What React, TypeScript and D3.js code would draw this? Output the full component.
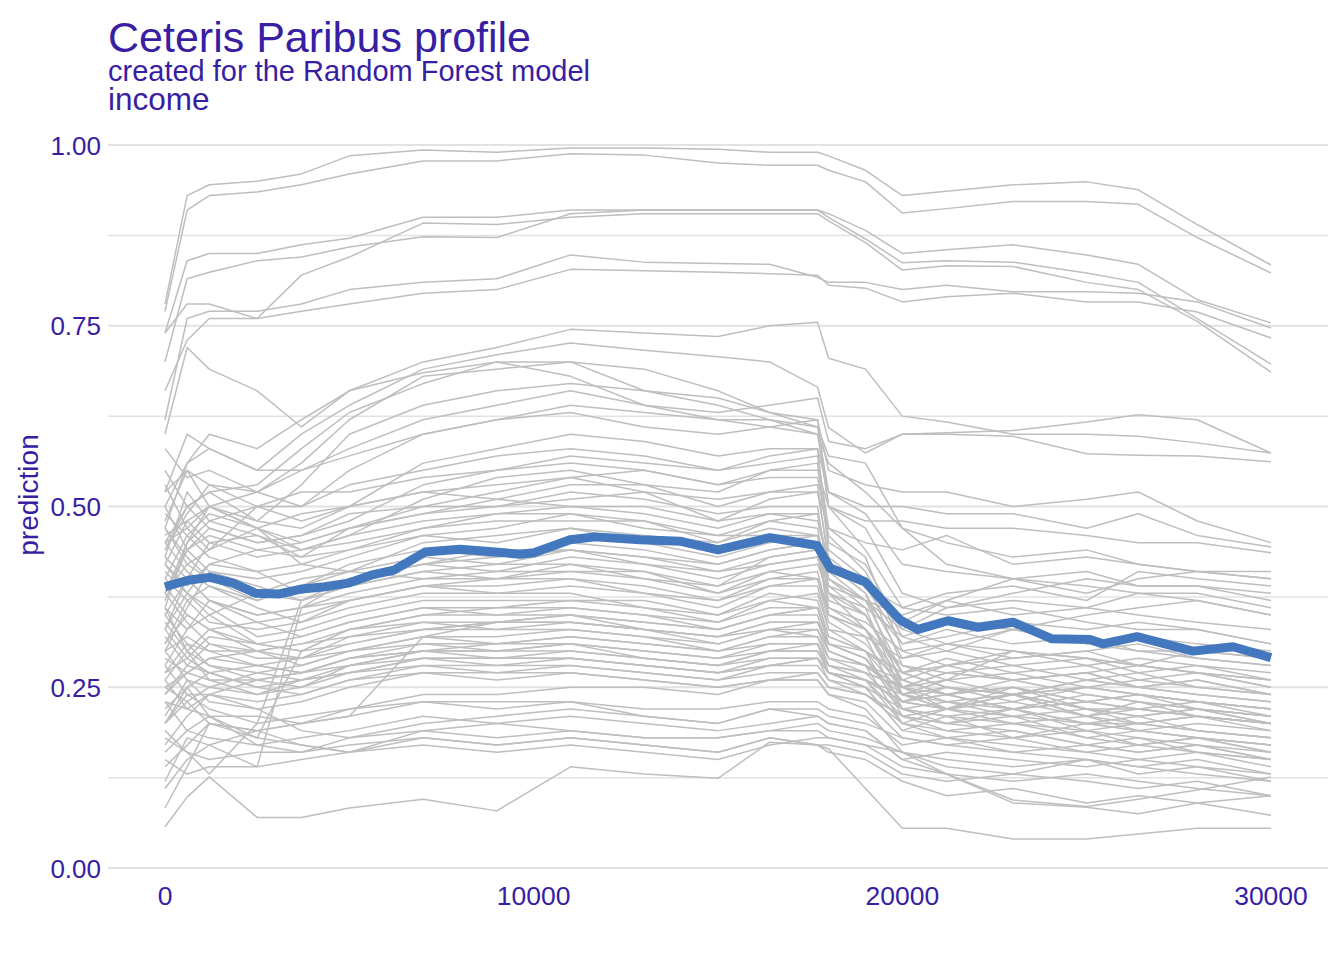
import React from "react";
import * as d3 from "d3";

// ---- data ----
const titleText = "Ceteris Paribus profile";
const subtitleText = "created for the Random Forest model";
const variableText = "income";
const yAxisTitle = "prediction";

const xTicks = [0, 10000, 20000, 30000];
const yTicks = [0, 0.25, 0.5, 0.75, 1];
const yMinorTicks = [0.125, 0.375, 0.625, 0.875];

// income grid used for the individual (grey) profiles
const gridIncome = [0, 600, 1200, 2500, 3700, 5000, 7000, 9000, 11000, 13000, 15000, 16400, 17700, 18000, 19000, 20000, 21200, 23000, 25000, 26400, 28000, 30000];

// individual ceteris paribus profiles (prediction at each gridIncome value)
const profiles: number[][] = [
  [.78, .93, .945, .95, .96, .985, .993, .99, .996, .996, .994, .99, .99, .985, .965, .93, .936, .945, .949, .938, .89, .834],
  [.77, .91, .93, .935, .945, .96, .978, .978, .988, .986, .975, .972, .972, .965, .949, .906, .912, .922, .922, .918, .872, .823],
  [.74, .84, .85, .85, .862, .871, .90, .90, .91, .91, .91, .91, .91, .905, .882, .85, .855, .862, .848, .835, .786, .754],
  [.70, .815, .824, .84, .845, .859, .873, .872, .905, .91, .91, .91, .91, .90, .87, .837, .84, .838, .823, .81, .76, .697],
  [.74, .78, .78, .76, .82, .845, .892, .89, .90, .905, .905, .905, .905, .895, .865, .827, .833, .832, .81, .80, .756, .686],
  [.62, .76, .77, .77, .78, .80, .81, .815, .848, .838, .836, .835, .817, .81, .81, .80, .806, .797, .797, .795, .783, .747],
  [.66, .73, .76, .76, .77, .78, .795, .80, .828, .826, .824, .822, .82, .806, .802, .783, .79, .795, .783, .783, .769, .733],
  [.47, .56, .60, .58, .62, .66, .70, .72, .745, .74, .735, .75, .755, .705, .69, .625, .617, .60, .60, .597, .588, .574],
  [.52, .60, .58, .55, .60, .64, .69, .71, .726, .716, .707, .70, .665, .609, .574, .60, .602, .605, .617, .627, .62, .574],
  [.44, .50, .52, .53, .58, .63, .67, .70, .68, .64, .62, .61, .60, .56, .52, .47, .45, .43, .44, .42, .41, .40],
  [.58, .54, .55, .52, .56, .62, .68, .69, .70, .69, .66, .63, .61, .57, .56, .47, .42, .40, .41, .39, .39, .37],
  [.36, .45, .50, .48, .53, .60, .64, .66, .67, .66, .65, .63, .62, .50, .44, .36, .35, .36, .34, .33, .33, .31],
  [.48, .55, .53, .50, .50, .55, .60, .62, .64, .63, .62, .62, .61, .52, .49, .42, .41, .40, .39, .38, .38, .36],
  [.42, .48, .50, .52, .55, .58, .62, .64, .66, .64, .63, .64, .65, .59, .58, .60, .60, .597, .573, .571, .57, .562],
  [.60, .72, .69, .66, .61, .66, .685, .70, .70, .66, .64, .62, .60, .50, .47, .38, .36, .37, .36, .35, .34, .33],
  [.45, .50, .52, .48, .47, .50, .56, .58, .60, .59, .57, .58, .58, .45, .42, .33, .31, .30, .29, .28, .27, .26],
  [.55, .50, .47, .45, .46, .48, .53, .55, .57, .56, .55, .56, .57, .47, .43, .30, .28, .29, .30, .28, .27, .25],
  [.40, .46, .49, .47, .44, .46, .51, .54, .55, .53, .52, .55, .56, .44, .40, .28, .27, .26, .27, .25, .26, .24],
  [.50, .44, .46, .44, .45, .47, .50, .52, .54, .55, .53, .54, .54, .46, .41, .32, .30, .33, .31, .30, .29, .28],
  [.43, .52, .48, .46, .43, .47, .49, .51, .53, .53, .50, .52, .53, .42, .38, .25, .23, .24, .22, .22, .21, .20],
  [.47, .42, .44, .50, .48, .50, .52, .51, .50, .50, .48, .51, .52, .43, .39, .31, .33, .31, .32, .30, .30, .29],
  [.38, .44, .47, .45, .46, .49, .50, .50, .52, .51, .49, .50, .50, .40, .36, .24, .22, .25, .22, .21, .22, .20],
  [.52, .55, .50, .47, .45, .47, .49, .50, .51, .52, .48, .49, .49, .41, .37, .27, .25, .24, .25, .24, .23, .22],
  [.33, .40, .45, .46, .44, .46, .48, .49, .50, .49, .47, .49, .48, .42, .38, .29, .30, .28, .29, .27, .28, .26],
  [.46, .48, .45, .43, .44, .45, .47, .49, .49, .47, .46, .48, .47, .39, .35, .26, .24, .22, .23, .22, .21, .19],
  [.41, .38, .42, .44, .43, .44, .47, .48, .48, .48, .45, .47, .46, .40, .37, .31, .32, .34, .33, .34, .33, .31],
  [.49, .46, .43, .41, .42, .44, .46, .47, .49, .48, .46, .46, .46, .38, .33, .24, .23, .22, .20, .20, .19, .18],
  [.45, .47, .50, .47, .42, .41, .45, .46, .47, .46, .45, .48, .49, .42, .40, .34, .37, .35, .36, .38, .37, .35],
  [.50, .56, .58, .55, .55, .57, .60, .62, .63, .61, .60, .61, .62, .55, .53, .52, .52, .50, .51, .52, .48, .45],
  [.44, .49, .53, .52, .50, .53, .55, .57, .58, .57, .55, .57, .58, .52, .50, .50, .49, .49, .47, .49, .46, .444],
  [.38, .45, .48, .50, .52, .52, .54, .55, .56, .55, .53, .55, .55, .50, .48, .48, .47, .47, .46, .45, .45, .436],
  [.53, .47, .44, .47, .49, .50, .52, .53, .54, .52, .51, .52, .52, .47, .45, .44, .46, .42, .43, .42, .41, .40],
  [.38, .42, .40, .37, .39, .42, .44, .43, .45, .44, .42, .44, .45, .36, .33, .26, .24, .25, .23, .24, .22, .21],
  [.43, .40, .37, .35, .36, .40, .42, .41, .43, .42, .41, .42, .43, .37, .35, .27, .29, .27, .28, .26, .27, .25],
  [.30, .36, .41, .39, .37, .39, .41, .42, .42, .40, .39, .43, .44, .35, .32, .22, .21, .22, .19, .20, .19, .18],
  [.36, .33, .35, .38, .40, .41, .40, .40, .41, .41, .38, .41, .40, .34, .31, .25, .27, .28, .26, .27, .25, .24],
  [.45, .41, .39, .36, .34, .37, .39, .40, .40, .38, .37, .40, .40, .35, .33, .28, .26, .30, .28, .29, .28, .27],
  [.28, .33, .37, .35, .36, .37, .39, .38, .39, .38, .36, .39, .39, .33, .30, .21, .19, .20, .18, .17, .18, .16],
  [.40, .37, .34, .33, .34, .36, .38, .38, .38, .36, .35, .38, .37, .32, .30, .24, .22, .23, .21, .22, .21, .20],
  [.33, .38, .36, .32, .33, .35, .37, .37, .37, .37, .35, .37, .38, .33, .32, .29, .31, .29, .30, .31, .29, .28],
  [.26, .30, .33, .34, .32, .34, .36, .36, .36, .35, .34, .36, .36, .31, .29, .23, .25, .24, .26, .25, .24, .23],
  [.42, .38, .35, .31, .30, .33, .35, .35, .35, .34, .33, .35, .35, .30, .28, .20, .18, .19, .17, .16, .17, .15],
  [.35, .31, .30, .30, .31, .33, .34, .34, .35, .33, .32, .34, .34, .30, .28, .25, .27, .26, .27, .28, .27, .26],
  [.31, .35, .33, .30, .29, .32, .33, .34, .34, .33, .31, .33, .33, .29, .27, .22, .21, .20, .21, .19, .20, .19],
  [.38, .34, .31, .29, .29, .31, .33, .33, .33, .32, .31, .33, .32, .29, .28, .26, .24, .25, .23, .24, .23, .22],
  [.24, .28, .31, .30, .28, .30, .32, .32, .33, .32, .30, .32, .32, .28, .26, .20, .22, .21, .18, .19, .18, .17],
  [.34, .30, .28, .27, .28, .30, .31, .31, .32, .31, .30, .31, .31, .27, .26, .23, .24, .22, .24, .23, .22, .21],
  [.29, .27, .29, .28, .27, .29, .31, .30, .31, .30, .29, .31, .31, .28, .27, .25, .22, .24, .21, .20, .21, .20],
  [.27, .31, .28, .26, .27, .29, .30, .30, .30, .29, .28, .30, .30, .27, .26, .21, .20, .19, .17, .18, .16, .15],
  [.32, .28, .27, .25, .26, .28, .30, .29, .30, .29, .28, .29, .29, .27, .25, .22, .23, .21, .22, .20, .21, .20],
  [.25, .27, .26, .26, .25, .28, .29, .29, .29, .28, .27, .28, .29, .26, .25, .19, .18, .17, .16, .15, .16, .14],
  [.30, .26, .25, .24, .26, .27, .28, .28, .28, .27, .26, .28, .28, .26, .24, .21, .22, .20, .19, .18, .17, .16],
  [.22, .25, .27, .25, .24, .26, .28, .27, .28, .27, .26, .27, .27, .25, .24, .20, .19, .18, .20, .19, .18, .17],
  [.28, .24, .24, .23, .24, .26, .27, .27, .27, .26, .25, .26, .26, .24, .23, .18, .17, .16, .15, .14, .15, .13],
  [.36, .30, .26, .24, .25, .27, .29, .29, .29, .28, .27, .28, .29, .27, .26, .24, .25, .23, .25, .24, .23, .22],
  [.23, .22, .24, .26, .27, .28, .30, .31, .31, .30, .29, .30, .31, .27, .25, .19, .21, .18, .19, .17, .18, .16],
  [.15, .13, .14, .14, .36, .38, .40, .41, .41, .40, .38, .40, .41, .35, .33, .25, .24, .26, .24, .23, .22, .21],
  [.18, .16, .13, .20, .37, .40, .42, .43, .44, .43, .42, .44, .45, .38, .35, .27, .25, .24, .25, .24, .23, .22],
  [.20, .25, .21, .18, .30, .33, .35, .36, .37, .36, .34, .37, .36, .31, .29, .22, .20, .21, .20, .19, .18, .17],
  [.12, .18, .17, .19, .20, .21, .32, .34, .35, .34, .33, .35, .36, .31, .29, .23, .22, .24, .22, .21, .22, .20],
  [.20, .23, .20, .19, .20, .22, .24, .24, .25, .25, .24, .26, .26, .24, .22, .16, .15, .14, .15, .13, .14, .12],
  [.26, .22, .21, .21, .20, .21, .23, .23, .23, .22, .22, .23, .23, .22, .21, .17, .18, .16, .17, .16, .17, .15],
  [.17, .21, .24, .22, .19, .18, .20, .21, .22, .21, .20, .22, .22, .21, .20, .18, .17, .18, .16, .17, .16, .15],
  [.23, .19, .18, .17, .18, .19, .21, .20, .21, .20, .19, .20, .21, .20, .19, .15, .16, .15, .14, .15, .14, .13],
  [.14, .17, .20, .19, .17, .16, .19, .18, .19, .18, .18, .19, .19, .18, .17, .14, .13, .12, .13, .12, .11, .10],
  [.19, .16, .15, .16, .16, .17, .18, .17, .18, .17, .16, .18, .17, .17, .16, .13, .12, .13, .12, .11, .12, .10],
  [.11, .15, .17, .14, .15, .16, .17, .16, .17, .16, .15, .17, .18, .18, .17, .16, .14, .13, .15, .14, .13, .12],
  [.057, .098, .126, .07, .07, .083, .095, .079, .14, .13, .124, .174, .17, .165, .11, .055, .055, .04, .04, .047, .055, .055],
  [.083, .14, .20, .18, .17, .16, .18, .17, .18, .17, .16, .18, .17, .16, .15, .12, .10, .11, .09, .10, .09, .10],
  [.20, .24, .22, .20, .21, .22, .23, .22, .23, .21, .20, .22, .21, .20, .19, .15, .13, .094, .085, .095, .108, .126],
  [.16, .19, .21, .17, .16, .18, .19, .20, .19, .18, .18, .19, .20, .19, .18, .16, .13, .09, .084, .075, .09, .073],
  [.37, .44, .41, .40, .41, .43, .46, .45, .47, .45, .43, .45, .46, .41, .39, .36, .38, .39, .37, .41, .40, .39],
  [.42, .39, .42, .41, .38, .40, .42, .44, .44, .43, .41, .43, .44, .40, .37, .33, .36, .38, .40, .39, .39, .38],
  [.31, .37, .39, .37, .39, .41, .43, .42, .44, .42, .40, .42, .43, .39, .37, .35, .37, .40, .38, .40, .41, .41],
  [.47, .43, .40, .38, .37, .39, .41, .40, .42, .41, .39, .41, .42, .38, .36, .32, .34, .33, .35, .36, .37, .35],
  [.35, .40, .37, .34, .35, .37, .39, .39, .40, .39, .37, .39, .40, .36, .34, .30, .31, .33, .31, .32, .31, .30],
  [.27, .29, .32, .31, .30, .31, .33, .34, .34, .33, .32, .34, .34, .31, .30, .27, .28, .30, .29, .28, .30, .29],
  [.33, .29, .27, .28, .29, .30, .32, .31, .32, .31, .30, .32, .33, .30, .28, .24, .26, .27, .25, .26, .25, .24],
  [.25, .23, .25, .27, .26, .27, .29, .28, .29, .28, .27, .29, .29, .27, .26, .23, .24, .22, .23, .22, .23, .21],
  [.21, .26, .23, .22, .23, .25, .27, .26, .27, .26, .25, .26, .27, .25, .24, .21, .20, .22, .20, .21, .19, .18],
  [.30, .32, .30, .28, .27, .29, .30, .30, .31, .29, .28, .30, .30, .28, .27, .25, .26, .24, .26, .25, .24, .23],
  [.39, .35, .33, .31, .32, .34, .36, .35, .36, .35, .33, .35, .36, .32, .30, .26, .28, .26, .27, .25, .26, .24],
  [.24, .27, .29, .30, .31, .32, .34, .33, .34, .33, .32, .33, .34, .31, .29, .23, .22, .24, .21, .23, .21, .20],
];

// aggregated (average) profile
const meanIncome = [0, 624, 1220, 1845, 2469, 3093, 3716, 4340, 4964, 5588, 6211, 7052, 8002, 8951, 9629, 10009, 10986, 11664, 12885, 13970, 15000, 16410, 17685, 18038, 18988, 19940, 20425, 21238, 22052, 23002, 24059, 25090, 25442, 26365, 27884, 28969, 30000];
const meanPrediction = [.389, .398, .402, .394, .380, .379, .386, .389, .394, .405, .412, .437, .441, .437, .434, .436, .454, .458, .454, .452, .440, .457, .446, .415, .396, .343, .330, .342, .333, .340, .317, .316, .310, .320, .300, .306, .291];

// ---- styles ----
const W = 1344;
const H = 960;
const ink = "#371ea3";
const gridColor = "#e2e2e2";
const greyLine = "#bebebe";
const blue = "#4378bf";
const font = "Arial, 'Liberation Sans', sans-serif";

export default function App() {
  const x = d3.scaleLinear().domain([0, 30000]).range([165, 1271]);
  const y = d3.scaleLinear().domain([0, 1]).range([868, 145]);
  const panelLeft = 108;
  const panelRight = 1328;

  const greyGen = d3
    .line<number>()
    .x((_, i) => x(gridIncome[i]))
    .y((d) => y(d));
  const meanGen = d3
    .line<number>()
    .x((_, i) => x(meanIncome[i]))
    .y((d) => y(d));

  return (
    <svg
      width={W}
      height={H}
      viewBox={`0 0 ${W} ${H}`}
      style={{ position: "absolute", left: 0, top: 0, background: "#fff" }}
      fontFamily={font}
    >
      <rect x={0} y={0} width={W} height={H} fill="#fff" />
      {/* grid */}
      {yMinorTicks.map((t) => (
        <line key={"m" + t} x1={panelLeft} x2={panelRight} y1={y(t)} y2={y(t)} stroke={gridColor} strokeWidth={1.5} />
      ))}
      {yTicks.map((t) => (
        <line key={"g" + t} x1={panelLeft} x2={panelRight} y1={y(t)} y2={y(t)} stroke={gridColor} strokeWidth={1.8} />
      ))}
      {/* grey profiles */}
      <g fill="none" stroke={greyLine} strokeWidth={1.5} strokeLinejoin="round" strokeLinecap="butt">
        {profiles.map((p, i) => (
          <path key={i} d={greyGen(p) || ""} />
        ))}
      </g>
      {/* mean profile */}
      <path d={meanGen(meanPrediction) || ""} fill="none" stroke={blue} strokeWidth={9} strokeLinejoin="round" strokeLinecap="butt" />
      {/* y tick labels */}
      {yTicks.map((t) => (
        <text key={"yl" + t} x={101} y={y(t) + 9.5} textAnchor="end" fontSize={26} fill={ink}>
          {d3.format(".2f")(t)}
        </text>
      ))}
      {/* x tick labels */}
      {xTicks.map((t) => (
        <text key={"xl" + t} x={x(t)} y={905} textAnchor="middle" fontSize={26.5} fill={ink}>
          {t}
        </text>
      ))}
      {/* axis title */}
      <text transform={`translate(38,495) rotate(-90)`} textAnchor="middle" fontSize={28} fill={ink}>
        {yAxisTitle}
      </text>
      {/* titles */}
      <text x={108} y={51.5} fontSize={43} fill={ink}>
        {titleText}
      </text>
      <text x={108} y={81} fontSize={29} fill={ink}>
        {subtitleText}
      </text>
      <text x={108} y={110} fontSize={31.5} fill={ink}>
        {variableText}
      </text>
    </svg>
  );
}
